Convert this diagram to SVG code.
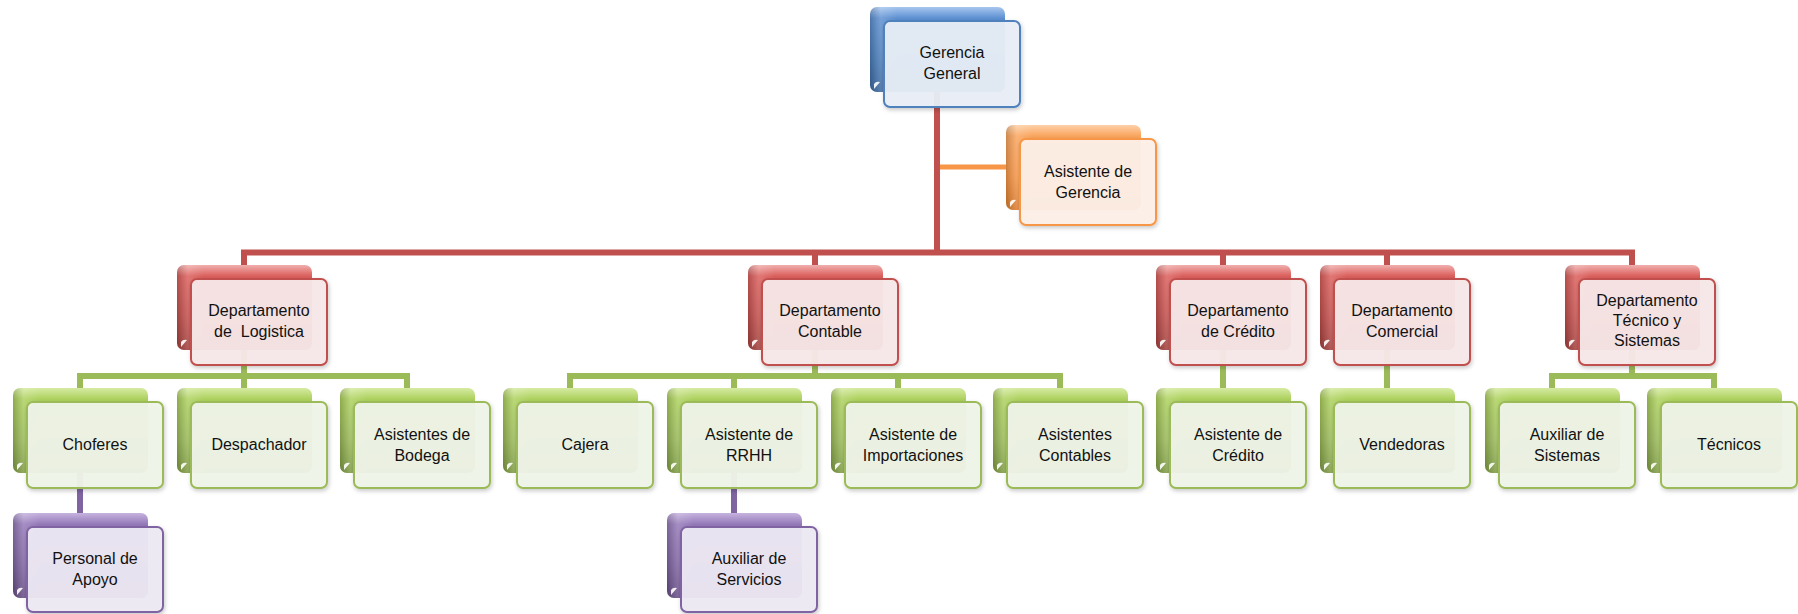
<svg xmlns="http://www.w3.org/2000/svg" width="1798" height="614" viewBox="0 0 1798 614">
<defs>
<linearGradient id="gBlue" x1="0" y1="0" x2="0" y2="1"><stop offset="0" stop-color="#A7C6EE"/><stop offset="0.13" stop-color="#5E91D2"/><stop offset="0.6" stop-color="#4A7EBB"/><stop offset="1" stop-color="#3A679F"/></linearGradient>
<linearGradient id="gRed" x1="0" y1="0" x2="0" y2="1"><stop offset="0" stop-color="#F0AFAD"/><stop offset="0.13" stop-color="#DB5F5C"/><stop offset="0.6" stop-color="#C4504D"/><stop offset="1" stop-color="#A33E3B"/></linearGradient>
<linearGradient id="gGreen" x1="0" y1="0" x2="0" y2="1"><stop offset="0" stop-color="#D6EBA3"/><stop offset="0.13" stop-color="#ADD15E"/><stop offset="0.6" stop-color="#9BBB59"/><stop offset="1" stop-color="#7E9C42"/></linearGradient>
<linearGradient id="gPurple" x1="0" y1="0" x2="0" y2="1"><stop offset="0" stop-color="#C6B3DE"/><stop offset="0.13" stop-color="#957AB9"/><stop offset="0.6" stop-color="#8064A2"/><stop offset="1" stop-color="#664C86"/></linearGradient>
<linearGradient id="gOrange" x1="0" y1="0" x2="0" y2="1"><stop offset="0" stop-color="#FDD0A8"/><stop offset="0.13" stop-color="#FAA55E"/><stop offset="0.6" stop-color="#F79646"/><stop offset="1" stop-color="#DD7D2C"/></linearGradient>
<linearGradient id="gEdge" x1="0" y1="0" x2="1" y2="0"><stop offset="0" stop-color="#000" stop-opacity="0.18"/><stop offset="0.08" stop-color="#fff" stop-opacity="0.15"/><stop offset="0.2" stop-color="#fff" stop-opacity="0"/><stop offset="1" stop-color="#fff" stop-opacity="0"/></linearGradient>
<filter id="sh" x="-10%" y="-10%" width="125%" height="130%"><feDropShadow dx="1" dy="2" stdDeviation="2" flood-color="#000" flood-opacity="0.22"/></filter>
</defs>
<style>
.back{stroke:none}
.edge{fill:url(#gEdge)}
.curl{fill:#fff;opacity:0.9}
.front{stroke-width:2;filter:url(#sh)}
.blue .back{fill:url(#gBlue)} .blue .front{fill:#E8EEF7;fill-opacity:0.95;stroke:#4F81BD}
.red .back{fill:url(#gRed)} .red .front{fill:#F8E8E8;fill-opacity:0.95;stroke:#C0504D}
.green .back{fill:url(#gGreen)} .green .front{fill:#F0F4E9;fill-opacity:0.95;stroke:#9BBB59}
.purple .back{fill:url(#gPurple)} .purple .front{fill:#EDE9F3;fill-opacity:0.95;stroke:#8064A2}
.orange .back{fill:url(#gOrange)} .orange .front{fill:#FDF0E8;fill-opacity:0.95;stroke:#F79646}
text{font-family:"Liberation Sans",Arial,sans-serif;font-size:16px;fill:#111;text-anchor:middle;white-space:pre}
.conn path{fill:none;stroke-width:6;stroke-linejoin:miter;stroke-linecap:butt}
.c-red{stroke:#C0504D}
.c-green{stroke:#9BBB59}
.c-purple{stroke:#8064A2}
.c-orange{stroke:#F79646}
</style>
<rect width="1798" height="614" fill="#fff"/>
<g id="connectors" class="conn">
<path class="c-red" d="M937,92 V252.5 M244,265 V252.5 H1632 V265 M815,252.5 V265 M1223,252.5 V265 M1387,252.5 V265"/>
<path class="c-orange" style="stroke-width:5" d="M940,167 H1006"/>
<path class="c-green" d="M244,349 V388 M80,388 V376 H407 V388"/>
<path class="c-green" d="M815,349 V376 M570,388 V376 H1060 V388 M734,376 V388 M898,376 V388"/>
<path class="c-green" d="M1223,349 V388 M1387,349 V388"/>
<path class="c-green" d="M1632,349 V376 M1552,388 V376 H1714 V388"/>
<path class="c-purple" d="M80,472 V513 M734,472 V513"/>
</g>

<g id="n-gerencia" class="node blue">
<rect class="back" x="870" y="7" width="135" height="85" rx="7"/><rect class="edge" x="870" y="7" width="135" height="85" rx="7"/>
<path class="curl" d="M874,89 V84 Q876,81 880,82 Z"/>
<rect class="front" x="884" y="21" width="136" height="86" rx="6"/>
<text x="952" y="58">Gerencia</text><text x="952" y="78.5">General</text>
</g>

<g id="n-asist-gerencia" class="node orange">
<rect class="back" x="1006" y="125" width="135" height="85" rx="7"/><rect class="edge" x="1006" y="125" width="135" height="85" rx="7"/>
<path class="curl" d="M1010,207 V202 Q1012,199 1016,200 Z"/>
<rect class="front" x="1020" y="139" width="136" height="86" rx="6"/>
<text x="1088" y="177">Asistente de</text><text x="1088" y="197.5">Gerencia</text>
</g>

<g id="n-logistica" class="node red">
<rect class="back" x="177" y="265" width="135" height="85" rx="7"/><rect class="edge" x="177" y="265" width="135" height="85" rx="7"/>
<path class="curl" d="M181,347 V342 Q183,339 187,340 Z"/>
<rect class="front" x="191" y="279" width="136" height="86" rx="6"/>
<text x="259" y="316">Departamento</text><text x="259" y="336.5">de  Logistica</text>
</g>

<g id="n-contable" class="node red">
<rect class="back" x="748" y="265" width="135" height="85" rx="7"/><rect class="edge" x="748" y="265" width="135" height="85" rx="7"/>
<path class="curl" d="M752,347 V342 Q754,339 758,340 Z"/>
<rect class="front" x="762" y="279" width="136" height="86" rx="6"/>
<text x="830" y="316">Departamento</text><text x="830" y="336.5">Contable</text>
</g>

<g id="n-credito" class="node red">
<rect class="back" x="1156" y="265" width="135" height="85" rx="7"/><rect class="edge" x="1156" y="265" width="135" height="85" rx="7"/>
<path class="curl" d="M1160,347 V342 Q1162,339 1166,340 Z"/>
<rect class="front" x="1170" y="279" width="136" height="86" rx="6"/>
<text x="1238" y="316">Departamento</text><text x="1238" y="336.5">de Crédito</text>
</g>

<g id="n-comercial" class="node red">
<rect class="back" x="1320" y="265" width="135" height="85" rx="7"/><rect class="edge" x="1320" y="265" width="135" height="85" rx="7"/>
<path class="curl" d="M1324,347 V342 Q1326,339 1330,340 Z"/>
<rect class="front" x="1334" y="279" width="136" height="86" rx="6"/>
<text x="1402" y="316">Departamento</text><text x="1402" y="336.5">Comercial</text>
</g>

<g id="n-tecnico" class="node red">
<rect class="back" x="1565" y="265" width="135" height="85" rx="7"/><rect class="edge" x="1565" y="265" width="135" height="85" rx="7"/>
<path class="curl" d="M1569,347 V342 Q1571,339 1575,340 Z"/>
<rect class="front" x="1579" y="279" width="136" height="86" rx="6"/>
<text x="1647" y="305.5">Departamento</text><text x="1647" y="325.5">Técnico y</text><text x="1647" y="345.5">Sistemas</text>
</g>

<g id="n-choferes" class="node green">
<rect class="back" x="13" y="388" width="135" height="85" rx="7"/><rect class="edge" x="13" y="388" width="135" height="85" rx="7"/>
<path class="curl" d="M17,470 V465 Q19,462 23,463 Z"/>
<rect class="front" x="27" y="402" width="136" height="86" rx="6"/>
<text x="95" y="450">Choferes</text>
</g>

<g id="n-despachador" class="node green">
<rect class="back" x="177" y="388" width="135" height="85" rx="7"/><rect class="edge" x="177" y="388" width="135" height="85" rx="7"/>
<path class="curl" d="M181,470 V465 Q183,462 187,463 Z"/>
<rect class="front" x="191" y="402" width="136" height="86" rx="6"/>
<text x="259" y="450">Despachador</text>
</g>

<g id="n-bodega" class="node green">
<rect class="back" x="340" y="388" width="135" height="85" rx="7"/><rect class="edge" x="340" y="388" width="135" height="85" rx="7"/>
<path class="curl" d="M344,470 V465 Q346,462 350,463 Z"/>
<rect class="front" x="354" y="402" width="136" height="86" rx="6"/>
<text x="422" y="440">Asistentes de</text><text x="422" y="460.5">Bodega</text>
</g>

<g id="n-cajera" class="node green">
<rect class="back" x="503" y="388" width="135" height="85" rx="7"/><rect class="edge" x="503" y="388" width="135" height="85" rx="7"/>
<path class="curl" d="M507,470 V465 Q509,462 513,463 Z"/>
<rect class="front" x="517" y="402" width="136" height="86" rx="6"/>
<text x="585" y="450">Cajera</text>
</g>

<g id="n-rrhh" class="node green">
<rect class="back" x="667" y="388" width="135" height="85" rx="7"/><rect class="edge" x="667" y="388" width="135" height="85" rx="7"/>
<path class="curl" d="M671,470 V465 Q673,462 677,463 Z"/>
<rect class="front" x="681" y="402" width="136" height="86" rx="6"/>
<text x="749" y="440">Asistente de</text><text x="749" y="460.5">RRHH</text>
</g>

<g id="n-importaciones" class="node green">
<rect class="back" x="831" y="388" width="135" height="85" rx="7"/><rect class="edge" x="831" y="388" width="135" height="85" rx="7"/>
<path class="curl" d="M835,470 V465 Q837,462 841,463 Z"/>
<rect class="front" x="845" y="402" width="136" height="86" rx="6"/>
<text x="913" y="440">Asistente de</text><text x="913" y="460.5">Importaciones</text>
</g>

<g id="n-contables" class="node green">
<rect class="back" x="993" y="388" width="135" height="85" rx="7"/><rect class="edge" x="993" y="388" width="135" height="85" rx="7"/>
<path class="curl" d="M997,470 V465 Q999,462 1003,463 Z"/>
<rect class="front" x="1007" y="402" width="136" height="86" rx="6"/>
<text x="1075" y="440">Asistentes</text><text x="1075" y="460.5">Contables</text>
</g>

<g id="n-asist-credito" class="node green">
<rect class="back" x="1156" y="388" width="135" height="85" rx="7"/><rect class="edge" x="1156" y="388" width="135" height="85" rx="7"/>
<path class="curl" d="M1160,470 V465 Q1162,462 1166,463 Z"/>
<rect class="front" x="1170" y="402" width="136" height="86" rx="6"/>
<text x="1238" y="440">Asistente de</text><text x="1238" y="460.5">Crédito</text>
</g>

<g id="n-vendedoras" class="node green">
<rect class="back" x="1320" y="388" width="135" height="85" rx="7"/><rect class="edge" x="1320" y="388" width="135" height="85" rx="7"/>
<path class="curl" d="M1324,470 V465 Q1326,462 1330,463 Z"/>
<rect class="front" x="1334" y="402" width="136" height="86" rx="6"/>
<text x="1402" y="450">Vendedoras</text>
</g>

<g id="n-aux-sistemas" class="node green">
<rect class="back" x="1485" y="388" width="135" height="85" rx="7"/><rect class="edge" x="1485" y="388" width="135" height="85" rx="7"/>
<path class="curl" d="M1489,470 V465 Q1491,462 1495,463 Z"/>
<rect class="front" x="1499" y="402" width="136" height="86" rx="6"/>
<text x="1567" y="440">Auxiliar de</text><text x="1567" y="460.5">Sistemas</text>
</g>

<g id="n-tecnicos" class="node green">
<rect class="back" x="1647" y="388" width="135" height="85" rx="7"/><rect class="edge" x="1647" y="388" width="135" height="85" rx="7"/>
<path class="curl" d="M1651,470 V465 Q1653,462 1657,463 Z"/>
<rect class="front" x="1661" y="402" width="136" height="86" rx="6"/>
<text x="1729" y="450">Técnicos</text>
</g>

<g id="n-personal-apoyo" class="node purple">
<rect class="back" x="13" y="513" width="135" height="85" rx="7"/><rect class="edge" x="13" y="513" width="135" height="85" rx="7"/>
<path class="curl" d="M17,595 V590 Q19,587 23,588 Z"/>
<rect class="front" x="27" y="527" width="136" height="85" rx="6"/>
<text x="95" y="564">Personal de</text><text x="95" y="584.5">Apoyo</text>
</g>

<g id="n-aux-servicios" class="node purple">
<rect class="back" x="667" y="513" width="135" height="85" rx="7"/><rect class="edge" x="667" y="513" width="135" height="85" rx="7"/>
<path class="curl" d="M671,595 V590 Q673,587 677,588 Z"/>
<rect class="front" x="681" y="527" width="136" height="85" rx="6"/>
<text x="749" y="564">Auxiliar de</text><text x="749" y="584.5">Servicios</text>
</g>
</svg>
